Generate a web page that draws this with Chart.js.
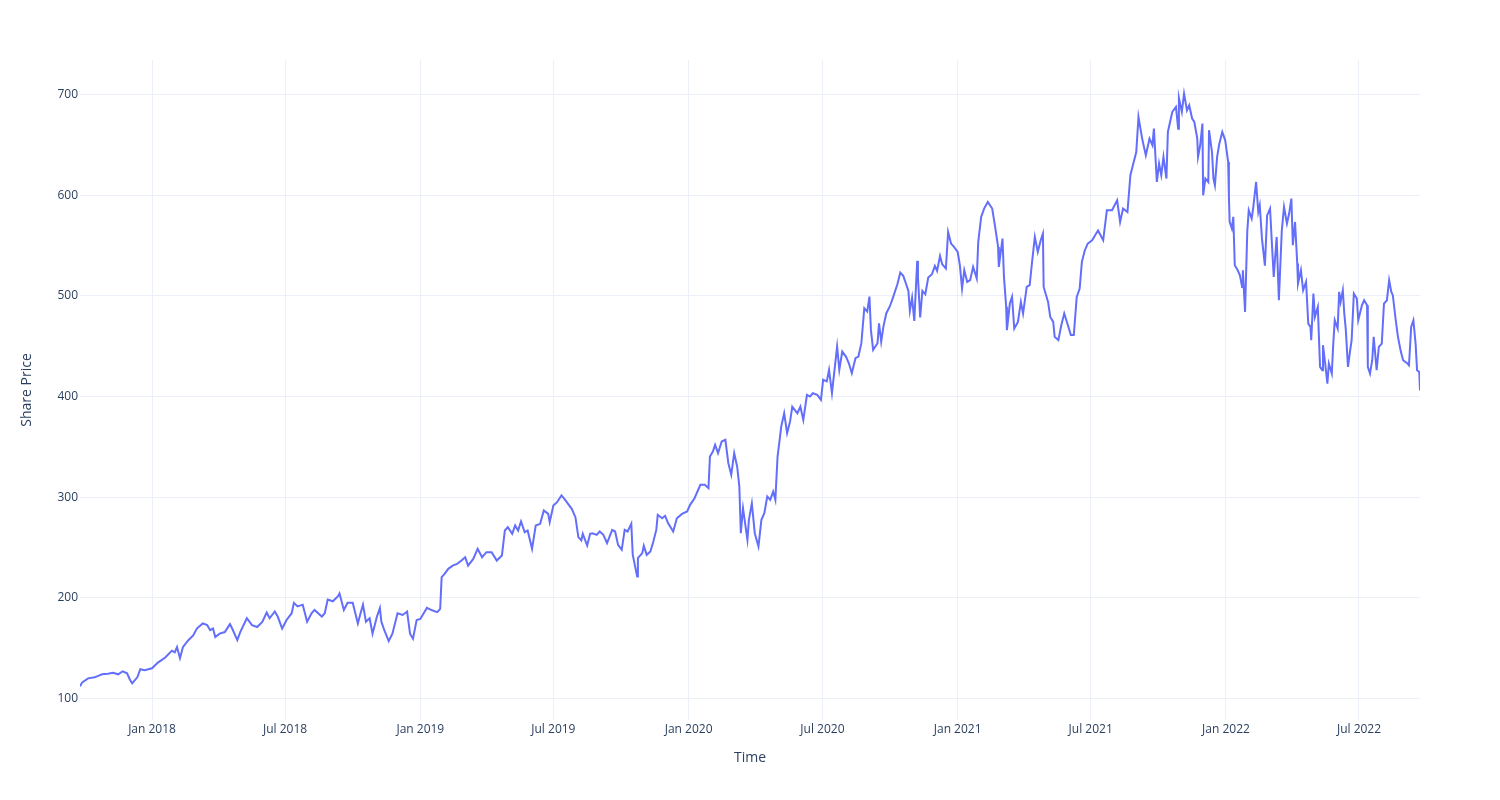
<!DOCTYPE html>
<html>
<head>
<meta charset="utf-8">
<script src="https://cdn.jsdelivr.net/npm/chart.js@4.4.1/dist/chart.umd.min.js"></script>
<style>
  body { margin: 0; background: #ffffff; }
  #contenedor { width: 1500px; height: 800px; }
</style>
</head>
<body>
<div id="contenedor"><canvas id="grafico" width="1500" height="800"></canvas></div>
<script>
//DATOS
const fechas = [
  '2017-09-25','2017-09-28','2017-10-06','2017-10-15','2017-10-25','2017-11-02','2017-11-09','2017-11-16','2017-11-22','2017-11-28',
  '2017-12-02','2017-12-05','2017-12-12','2017-12-16','2017-12-22','2018-01-01','2018-01-09','2018-01-19','2018-01-28','2018-02-01',
  '2018-02-04','2018-02-08','2018-02-12','2018-02-19','2018-02-26','2018-03-03','2018-03-11','2018-03-17','2018-03-21','2018-03-25',
  '2018-03-28','2018-04-03','2018-04-10','2018-04-17','2018-04-20','2018-04-27','2018-05-01','2018-05-10','2018-05-17','2018-05-24',
  '2018-05-31','2018-06-06','2018-06-10','2018-06-17','2018-06-21','2018-06-27','2018-07-03','2018-07-10','2018-07-13','2018-07-18',
  '2018-07-25','2018-07-31','2018-08-06','2018-08-10','2018-08-20','2018-08-24','2018-08-28','2018-09-04','2018-09-11','2018-09-13',
  '2018-09-19','2018-09-24','2018-10-01','2018-10-08','2018-10-11','2018-10-15','2018-10-19','2018-10-24','2018-10-28','2018-11-03',
  '2018-11-07','2018-11-09','2018-11-13','2018-11-19','2018-11-24','2018-12-01','2018-12-08','2018-12-14','2018-12-18','2018-12-22',
  '2018-12-27','2019-01-01','2019-01-05','2019-01-10','2019-01-17','2019-01-24','2019-01-28','2019-01-30','2019-02-03','2019-02-08',
  '2019-02-14','2019-02-20','2019-02-26','2019-03-03','2019-03-07','2019-03-14','2019-03-20','2019-03-26','2019-04-01','2019-04-08',
  '2019-04-15','2019-04-22','2019-04-26','2019-04-30','2019-05-06','2019-05-10','2019-05-14','2019-05-18','2019-05-23','2019-05-27',
  '2019-06-02','2019-06-07','2019-06-13','2019-06-18','2019-06-24','2019-06-26','2019-07-01','2019-07-06','2019-07-12','2019-07-16',
  '2019-07-21','2019-07-26','2019-07-31','2019-08-04','2019-08-08','2019-08-10','2019-08-16','2019-08-20','2019-08-23','2019-08-29',
  '2019-09-02','2019-09-07','2019-09-12','2019-09-19','2019-09-23','2019-09-27','2019-10-02','2019-10-06','2019-10-10','2019-10-15',
  '2019-10-17','2019-10-23','2019-10-24','2019-10-30','2019-11-01','2019-11-05','2019-11-10','2019-11-14','2019-11-18','2019-11-20',
  '2019-11-26','2019-11-30','2019-12-04','2019-12-11','2019-12-16','2019-12-23','2019-12-30','2020-01-03','2020-01-09','2020-01-17',
  '2020-01-23','2020-01-28','2020-01-30','2020-02-03','2020-02-06','2020-02-10','2020-02-15','2020-02-20','2020-02-24','2020-02-28',
  '2020-03-03','2020-03-07','2020-03-10','2020-03-12','2020-03-15','2020-03-21','2020-03-23','2020-03-27','2020-03-31','2020-04-05',
  '2020-04-09','2020-04-13','2020-04-17','2020-04-21','2020-04-25','2020-04-28','2020-05-01','2020-05-03','2020-05-06','2020-05-10',
  '2020-05-14','2020-05-18','2020-05-21','2020-05-28','2020-06-01','2020-06-05','2020-06-10','2020-06-14','2020-06-18','2020-06-24',
  '2020-06-29','2020-07-02','2020-07-07','2020-07-10','2020-07-14','2020-07-17','2020-07-21','2020-07-24','2020-07-28','2020-08-02',
  '2020-08-06','2020-08-10','2020-08-15','2020-08-19','2020-08-23','2020-08-27','2020-08-31','2020-09-03','2020-09-05','2020-09-08',
  '2020-09-14','2020-09-16','2020-09-19','2020-09-22','2020-09-26','2020-10-01','2020-10-05','2020-10-11','2020-10-15','2020-10-19',
  '2020-10-23','2020-10-26','2020-10-28','2020-10-31','2020-11-03','2020-11-07','2020-11-08','2020-11-11','2020-11-14','2020-11-18',
  '2020-11-22','2020-11-27','2020-12-01','2020-12-04','2020-12-08','2020-12-11','2020-12-16','2020-12-19','2020-12-23','2020-12-27',
  '2021-01-01','2021-01-04','2021-01-07','2021-01-10','2021-01-14','2021-01-18','2021-01-22','2021-01-27','2021-01-29','2021-02-02',
  '2021-02-06','2021-02-11','2021-02-17','2021-02-21','2021-02-25','2021-02-26','2021-03-03','2021-03-05','2021-03-08','2021-03-09',
  '2021-03-13','2021-03-16','2021-03-19','2021-03-24','2021-03-28','2021-03-31','2021-04-05','2021-04-09','2021-04-12','2021-04-16',
  '2021-04-20','2021-04-24','2021-04-27','2021-04-28','2021-05-04','2021-05-07','2021-05-11','2021-05-13','2021-05-18','2021-05-22',
  '2021-05-26','2021-05-31','2021-06-04','2021-06-08','2021-06-12','2021-06-16','2021-06-19','2021-06-23','2021-06-27','2021-07-03',
  '2021-07-07','2021-07-11','2021-07-18','2021-07-23','2021-07-30','2021-08-06','2021-08-10','2021-08-14','2021-08-20','2021-08-24',
  '2021-08-28','2021-09-01','2021-09-04','2021-09-09','2021-09-14','2021-09-19','2021-09-23','2021-09-25','2021-09-29','2021-10-02',
  '2021-10-05','2021-10-08','2021-10-12','2021-10-14','2021-10-20','2021-10-25','2021-10-28','2021-10-29','2021-11-02','2021-11-05',
  '2021-11-09','2021-11-12','2021-11-16','2021-11-19','2021-11-23','2021-11-24','2021-11-27','2021-11-30','2021-12-01','2021-12-04',
  '2021-12-08','2021-12-09','2021-12-13','2021-12-15','2021-12-17','2021-12-20','2021-12-23','2021-12-27','2021-12-31','2022-01-04',
  '2022-01-05','2022-01-06','2022-01-09','2022-01-11','2022-01-13','2022-01-17','2022-01-20','2022-01-23','2022-01-24','2022-01-27',
  '2022-01-30','2022-02-01','2022-02-05','2022-02-07','2022-02-11','2022-02-14','2022-02-16','2022-02-19','2022-02-23','2022-02-26',
  '2022-03-02','2022-03-05','2022-03-07','2022-03-11','2022-03-14','2022-03-18','2022-03-21','2022-03-25','2022-03-28','2022-03-31',
  '2022-04-02','2022-04-05','2022-04-08','2022-04-09','2022-04-13','2022-04-16','2022-04-20','2022-04-23','2022-04-26','2022-04-27',
  '2022-04-30','2022-05-02','2022-05-06','2022-05-09','2022-05-12','2022-05-13','2022-05-16','2022-05-19','2022-05-21','2022-05-25',
  '2022-05-27','2022-05-29','2022-06-02','2022-06-04','2022-06-06','2022-06-09','2022-06-11','2022-06-13','2022-06-16','2022-06-19',
  '2022-06-21','2022-06-24','2022-06-28','2022-06-30','2022-07-05','2022-07-08','2022-07-12','2022-07-13','2022-07-16','2022-07-19',
  '2022-07-21','2022-07-25','2022-07-28','2022-08-01','2022-08-04','2022-08-08','2022-08-11','2022-08-14','2022-08-16','2022-08-20',
  '2022-08-23','2022-08-27','2022-08-30','2022-09-05','2022-09-07','2022-09-10','2022-09-13','2022-09-16','2022-09-18','2022-09-21',
  '2022-09-22'
]

const precios = [
  112, 116, 120, 121, 124, 124.5, 125.5, 124, 127, 125,
  118.6, 115, 121, 129, 128, 130, 135.6, 140.7, 147.5, 145.8,
  151, 140, 151, 157.6, 162.7, 169.5, 174.6, 172.9, 167.8, 169.5,
  161, 164.4, 166, 173.9, 169.5, 158, 166, 179.7, 172.9, 171,
  176, 185.4, 179.7, 186.4, 181.4, 169.5, 178, 184.7, 195, 191.5,
  193.2, 176.3, 184.7, 188, 181.4, 184.7, 198.3, 196.6, 201.7, 204.4,
  188, 195, 195, 174.6, 183, 193.2, 176.3, 179.7, 164.4, 181.4,
  189.8, 176.3, 167.8, 157, 164.4, 184.7, 183, 186.4, 164.4, 159.3,
  178, 179, 184, 190, 187.6, 185.8, 189, 220.5, 223.8, 228.8,
  232, 233.8, 237, 240.4, 232, 238.7, 248.7, 240.4, 245.4, 245.4,
  237, 242, 266.9, 270.2, 263.6, 271.9, 266.9, 276, 265.2, 266.9,
  248.7, 271.9, 273.5, 286.8, 283.4, 275.2, 291.7, 295, 301.7, 298.3,
  293.4, 288.4, 280.1, 260.3, 257, 263.6, 252, 263.6, 264.2, 262.6,
  265.9, 262.6, 254.3, 267.5, 265.9, 252.6, 247.7, 267.5, 265.9, 273.5,
  242.7, 221.2, 239.4, 244.4, 251.7, 242.7, 246, 256, 267.5, 282.5,
  279.1, 281.5, 274.2, 265.9, 279.1, 283.4, 285.8, 292.4, 299, 312.3,
  312.3, 309, 340.4, 345.4, 352, 343.7, 355.3, 357, 333.8, 322.2,
  343.7, 330.5, 310.6, 264.2, 289, 257.6, 277.5, 294, 264.2, 251,
  277.5, 284, 300.7, 297.4, 305.6, 297.4, 340.4, 352, 370.2, 383.4,
  363.6, 375.2, 390, 383.4, 390, 376.8, 401.7, 400, 403.3, 401.7,
  396.7, 416.6, 415, 426.5, 403.3, 423.2, 449.7, 426.5, 444.7, 439.7,
  433.1, 423.2, 438.1, 439.7, 453, 487.7, 484.4, 499.3, 466.2, 446.4,
  453, 472.8, 454.6, 469.5, 482.8, 490, 498.3, 511.6, 523.2, 519.9,
  511.6, 505, 485.1, 498.3, 475.2, 534.8, 518.2, 478.5, 505, 501.7,
  518.2, 521.5, 529.8, 524.8, 539.7, 531.5, 527.2, 563.6, 552, 548.7,
  543.7, 530.5, 507.3, 525.5, 513.9, 515.6, 528.8, 517.2, 553.6, 578.5,
  586.8, 593.4, 586.8, 568.5, 548.7, 528.8, 557, 518.9, 489.1, 465.9,
  492.4, 499, 467.5, 474.2, 494, 482.5, 508.9, 510.6, 532.1, 558.6,
  543.7, 555.3, 561.9, 508.9, 494, 479.1, 474.2, 459.3, 456, 470.9,
  482.5, 470.9, 461.1, 461.1, 499, 507.3, 533.8, 545.4, 552, 555.3,
  560.3, 565, 555.3, 585.1, 585.1, 595, 573.5, 586.8, 583.4, 619.9,
  631.5, 643, 677.8, 656.3, 639.7, 656.3, 649.7, 666.2, 613.2, 631.5,
  619.9, 638.1, 616.6, 662.9, 682.8, 687.7, 666.2, 696.7, 682.8, 701,
  684.4, 689.4, 676.2, 672.8, 656.3, 638.1, 649.7, 671.2, 600, 616.6,
  613.2, 664.6, 643, 616.6, 609.9, 638.1, 651.3, 662.9, 654.6, 633.1,
  600, 573.5, 566.9, 578.5, 530.5, 525.5, 520.5, 508.9, 525.5, 484.1,
  563.6, 585.1, 576.8, 586.8, 613.2, 583.4, 590, 556.9, 530, 580,
  586.8, 545.4, 518.9, 558.6, 495.7, 565.2, 588.4, 571.9, 581.8, 596.7,
  550.3, 573.5, 532.1, 512.3, 525.5, 505.6, 513.9, 472.5, 469.2, 456,
  502.3, 479.1, 489.1, 429.5, 426.2, 451, 432.8, 412.9, 432.8, 422.8,
  452.6, 475.8, 467.5, 504, 494, 505.6, 482.5, 467, 429.5, 446,
  456, 502.3, 497.4, 475.8, 490.7, 495.7, 490.7, 429.5, 422.8, 436.1,
  459.3, 426.2, 449.3, 452.6, 492.4, 495.7, 515.6, 504, 500.7, 475.8,
  459.3, 444.4, 436.1, 432.8, 431.1, 469.2, 475.8, 452.6, 426.2, 424.5,
  406
]

//MARCAS DE LOS EJES
const ticksFechas = ['2018-01-01', '2018-07-01', '2019-01-01', '2019-07-01', '2020-01-01',
  '2020-07-01', '2021-01-01', '2021-07-01', '2022-01-01', '2022-07-01']
const ticksTextos = ['Jan 2018', 'Jul 2018', 'Jan 2019', 'Jul 2019', 'Jan 2020',
  'Jul 2020', 'Jan 2021', 'Jul 2021', 'Jan 2022', 'Jul 2022']
const ticksPrecio = [100, 200, 300, 400, 500, 600, 700]

const fuente = "'Open Sans', verdana, arial, sans-serif"
const colorTexto = '#2a3f5f'
const colorGrilla = '#ebf0f8'

//FUNCIÓN PARA PASAR 'AAAA-MM-DD' A MILISEGUNDOS
function aTiempo(fecha) {
    const [a, m, d] = fecha.split('-').map(Number)
    return Date.UTC(a, m - 1, d)
}

const puntos = fechas.map((f, i) => ({ x: aTiempo(f), y: precios[i] }))

//RENDERIZAR GRÁFICO
const ctx = document.querySelector('#grafico').getContext('2d')
new Chart(ctx, {
    type: 'line',
    data: {
        datasets: [{
            data: puntos,
            borderColor: '#636efa',
            borderWidth: 2,
            pointRadius: 0,
            tension: 0,
            fill: false
        }]
    },
    options: {
        responsive: false,
        animation: false,
        layout: { padding: { left: 0, right: 80, top: 60, bottom: 0 } },
        plugins: {
            legend: { display: false },
            tooltip: { enabled: false }
        },
        scales: {
            x: {
                type: 'linear',
                min: puntos[0].x,
                max: puntos[puntos.length - 1].x,
                afterBuildTicks: eje => { eje.ticks = ticksFechas.map(f => ({ value: aTiempo(f) })) },
                afterFit: eje => { eje.height = 80 },
                grid: { color: colorGrilla, lineWidth: 1, drawTicks: false },
                border: { display: false },
                ticks: {
                    autoSkip: false,
                    maxRotation: 0,
                    padding: 2,
                    color: colorTexto,
                    font: { family: fuente, size: 12 },
                    callback: (valor, i) => ticksTextos[i]
                },
                title: {
                    display: true,
                    text: 'Time',
                    color: colorTexto,
                    font: { family: fuente, size: 14 },
                    padding: { top: 0, bottom: 34 }
                }
            },
            y: {
                min: 78.6,
                max: 734.4,
                afterBuildTicks: eje => { eje.ticks = ticksPrecio.map(v => ({ value: v })) },
                afterFit: eje => { eje.width = 80 },
                grid: { color: colorGrilla, lineWidth: 1, drawTicks: false },
                border: { display: false },
                ticks: {
                    padding: 2,
                    color: colorTexto,
                    font: { family: fuente, size: 12 },
                    callback: valor => String(valor)
                },
                title: {
                    display: true,
                    text: 'Share Price',
                    color: colorTexto,
                    font: { family: fuente, size: 14 },
                    padding: { top: 19, bottom: 0 }
                }
            }
        }
    }
})
</script>
</body>
</html>
